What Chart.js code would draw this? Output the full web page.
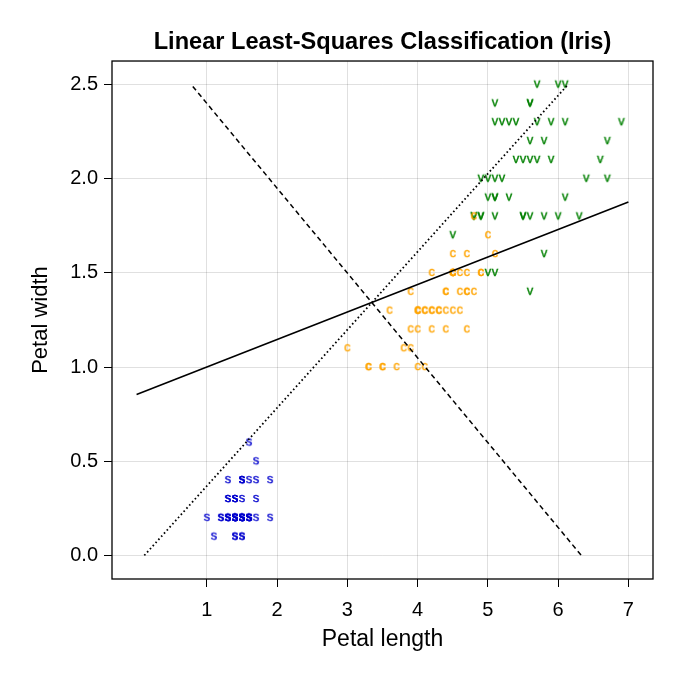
<!DOCTYPE html>
<html>
<head>
<meta charset="utf-8">
<script src="https://cdn.jsdelivr.net/npm/chart.js@4.4.1/dist/chart.umd.min.js"></script>
<style>
html,body{margin:0;padding:0;background:#fff;}
#wrap{width:680px;height:680px;}
</style>
</head>
<body>
<div id="wrap"><canvas id="c" width="680" height="680"></canvas></div>
<script>
// ---- Data (Iris petal measurements) ----
const setosaLength = [1.4,1.4,1.3,1.5,1.4,1.7,1.4,1.5,1.4,1.5,1.5,1.6,1.4,1.1,1.2,1.5,1.3,1.4,1.7,1.5,1.7,1.5,1.0,1.7,1.9,1.6,1.6,1.5,1.4,1.6,1.6,1.5,1.5,1.4,1.5,1.2,1.3,1.4,1.3,1.5,1.3,1.3,1.3,1.6,1.9,1.4,1.6,1.4,1.5,1.4];
const setosaWidth  = [0.2,0.2,0.2,0.2,0.2,0.4,0.3,0.2,0.2,0.1,0.2,0.2,0.1,0.1,0.2,0.4,0.4,0.3,0.3,0.3,0.2,0.4,0.2,0.5,0.2,0.2,0.4,0.2,0.2,0.2,0.2,0.4,0.1,0.2,0.2,0.2,0.2,0.1,0.2,0.2,0.3,0.3,0.2,0.6,0.4,0.3,0.2,0.2,0.2,0.2];

const versicolorLength = [4.7,4.5,4.9,4.0,4.6,4.5,4.7,3.3,4.6,3.9,3.5,4.2,4.0,4.7,3.6,4.4,4.5,4.1,4.5,3.9,4.8,4.0,4.9,4.7,4.3,4.4,4.8,5.0,4.5,3.5,3.8,3.7,3.9,5.1,4.5,4.5,4.7,4.4,4.1,4.0,4.4,4.6,4.0,3.3,4.2,4.2,4.2,4.3,3.0,4.1];
const versicolorWidth  = [1.4,1.5,1.5,1.3,1.5,1.3,1.6,1.0,1.3,1.4,1.0,1.5,1.0,1.4,1.3,1.4,1.5,1.0,1.5,1.1,1.8,1.3,1.5,1.2,1.3,1.4,1.4,1.7,1.5,1.0,1.1,1.0,1.2,1.6,1.5,1.6,1.5,1.3,1.3,1.3,1.2,1.4,1.2,1.0,1.3,1.2,1.3,1.3,1.1,1.3];

const virginicaLength = [6.0,5.1,5.9,5.6,5.8,6.6,4.5,6.3,5.8,6.1,5.1,5.3,5.5,5.0,5.1,5.3,5.5,6.7,6.9,5.0,5.7,4.9,6.7,4.9,5.7,6.0,4.8,4.9,5.6,5.8,6.1,6.4,5.6,5.1,5.6,6.1,5.6,5.5,4.8,5.4,5.6,5.1,5.1,5.9,5.7,5.2,5.0,5.2,5.4,5.1];
const virginicaWidth  = [2.5,1.9,2.1,1.8,2.2,2.1,1.7,1.8,1.8,2.5,2.0,1.9,2.1,2.0,2.4,2.3,1.8,2.2,2.3,1.5,2.3,2.0,2.0,1.8,2.1,1.8,1.8,1.8,2.1,1.6,1.9,2.0,2.2,1.5,1.4,2.3,2.4,1.8,1.8,2.1,2.4,2.3,1.9,2.3,2.5,2.3,1.9,2.0,2.3,1.8];

// Decision boundary lines (endpoints)
const solidLineX  = [0.0, 7.0];
const solidLineY  = [0.855, 1.876];
const dashedLineX = [0.80, 6.33];
const dashedLineY = [2.49, 0.0];
const dottedLineX = [0.11, 6.14];
const dottedLineY = [0.0, 2.5];

const xTicks = [1, 2, 3, 4, 5, 6, 7];
const yTicks = [0.0, 0.5, 1.0, 1.5, 2.0, 2.5];

const titleText = "Linear Least-Squares Classification (Iris)";
const xLabel = "Petal length";
const yLabel = "Petal width";

// ---- helpers ----
function pts(xs, ys){ return xs.map((x,i)=>({x:x, y:ys[i]})); }
function makeMarker(letter, color){
  const s = 16, fs = 13;
  const cv = document.createElement('canvas');
  cv.width = s; cv.height = s;
  const c = cv.getContext('2d');
  c.font = fs + 'px "Liberation Sans", Arial, sans-serif';
  c.fillStyle = color;
  c.strokeStyle = color;
  c.lineWidth = 0.35;
  c.textAlign = 'center';
  c.textBaseline = 'alphabetic';
  c.fillText(letter, s/2, s/2 + fs*0.26);
  c.strokeText(letter, s/2, s/2 + fs*0.26);
  return cv;
}
const FONT = '"Liberation Sans", Arial, sans-serif';

const framePlugin = {
  id: 'frame',
  afterDraw(chart){
    const a = chart.chartArea, c = chart.ctx;
    c.save();
    c.strokeStyle = '#000';
    c.lineWidth = 1.3;
    c.strokeRect(a.left, a.top, a.right - a.left, a.bottom - a.top);
    c.restore();
  }
};

const ctx = document.getElementById('c').getContext('2d');
new Chart(ctx, {
  type: 'scatter',
  data: {
    datasets: [
      { label:'setosa', data: pts(setosaLength, setosaWidth), pointStyle: makeMarker('s', '#0000cd'), pointRadius: 6, order: 4 },
      { label:'versicolor', data: pts(versicolorLength, versicolorWidth), pointStyle: makeMarker('c', '#ffa500'), pointRadius: 6, order: 2 },
      { label:'virginica', data: pts(virginicaLength, virginicaWidth), pointStyle: makeMarker('v', '#008000'), pointRadius: 6, order: 3 },
      { label:'solid', data: pts(solidLineX, solidLineY), showLine: true, pointRadius: 0, borderColor:'#000', borderWidth: 1.6, order: 0 },
      { label:'dashed', data: pts(dashedLineX, dashedLineY), showLine: true, pointRadius: 0, borderColor:'#000', borderWidth: 1.5, borderDash:[5,3.5], order: 0 },
      { label:'dotted', data: pts(dottedLineX, dottedLineY), showLine: true, pointRadius: 0, borderColor:'#000', borderWidth: 1.8, borderDash:[1.6,2.6], order: 0 }
    ]
  },
  options: {
    responsive: false,
    devicePixelRatio: 1,
    animation: false,
    events: [],
    layout: { padding: { left: 0, right: 27, top: 0, bottom: 0 } },
    plugins: {
      legend: { display: false },
      tooltip: { enabled: false },
      title: {
        display: true, text: titleText, color: '#000', fullSize: false,
        font: { family: FONT, size: 23.6, weight: 'bold', lineHeight: 1.2 },
        padding: { top: 28, bottom: 4.7 }
      }
    },
    scales: {
      x: {
        type: 'linear', min: -0.35, max: 7.35,
        afterBuildTicks: s => { s.ticks = xTicks.map(v => ({ value: v })); },
        afterFit: s => { s.height = 101; },
        border: { display: false },
        grid: { color: 'rgba(0,0,0,0.12)', lineWidth: 1, tickColor: '#000', tickLength: 8, tickWidth: 1 },
        ticks: { color: '#000', font: { family: FONT, size: 20 }, padding: 11, maxRotation: 0, autoSkip: false, callback: v => String(v) },
        title: { display: true, text: xLabel, color: '#000', font: { family: FONT, size: 23, lineHeight: 1.2 }, padding: { top: 0, bottom: 26.2 } }
      },
      y: {
        type: 'linear', min: -0.125, max: 2.625,
        afterBuildTicks: s => { s.ticks = yTicks.map(v => ({ value: v })); },
        afterFit: s => { s.width = 112; },
        border: { display: false },
        grid: { color: 'rgba(0,0,0,0.12)', lineWidth: 1, tickColor: '#000', tickLength: 8, tickWidth: 1 },
        ticks: { color: '#000', font: { family: FONT, size: 20 }, padding: 6, autoSkip: false, callback: v => Number(v).toFixed(1) },
        title: { display: true, text: yLabel, color: '#000', font: { family: FONT, size: 22, lineHeight: 1.2 }, padding: { top: 28, bottom: 0 } }
      }
    }
  },
  plugins: [framePlugin]
});
</script>
</body>
</html>
